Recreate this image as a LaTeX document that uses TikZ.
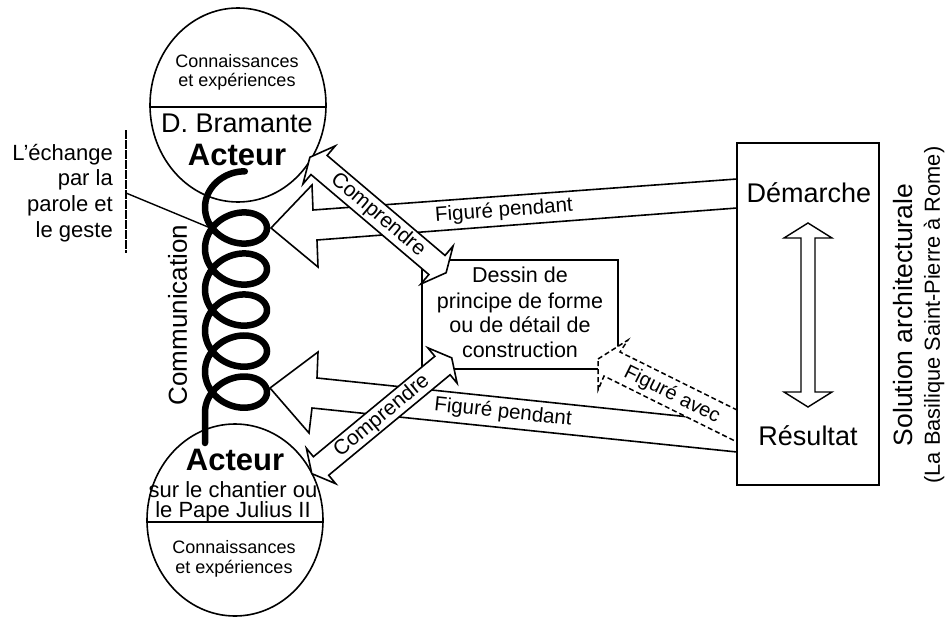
\documentclass[tikz,border=0pt]{standalone}
\usepackage{fontspec}
\setmainfont{Liberation Sans}
\usetikzlibrary{shapes.geometric}
\newcommand\fsz[1]{\fontsize{#1}{#1}\selectfont}
\begin{document}
\begin{tikzpicture}[x=1pt,y=-1pt,
  shapeline/.style={draw=black, line width=1.6pt, fill=white, line join=miter},
  dashline/.style={draw=black, line width=1.5pt, fill=white, dash pattern=on 5pt off 3pt},
  txt/.style={inner sep=0pt, anchor=base},
  rtxt/.style={inner sep=0pt, anchor=base east},
  ctxt/.style={inner sep=0pt, anchor=center},
]
\useasboundingbox (0,0) rectangle (945,618);
\fill[white] (0,0) rectangle (945,618);

% the two actors
\node[shapeline, ellipse, minimum width=176pt, minimum height=194pt, inner sep=0pt] (topact) at (238,105) {};
\draw[line width=1.6pt] ([yshift=-2pt]topact.west) -- ([yshift=-2pt]topact.east);
\node[shapeline, ellipse, minimum width=176pt, minimum height=192pt, inner sep=0pt] (botact) at (235,520) {};
\draw[line width=1.6pt] ([yshift=-2pt]botact.west) -- ([yshift=-2pt]botact.east);

% wide arrows from the solution back to the actors
\draw[shapeline] (737,179) -- (313,210) -- (312,185) -- (271,228) -- (318,267) -- (317,240) -- (737,208) -- cycle;
\draw[shapeline] (737,422) -- (317,378) -- (318,352) -- (270,388) -- (309,433) -- (312,408) -- (737,452) -- cycle;

% drawing box
\node[shapeline, minimum width=196pt, minimum height=109pt, inner sep=0pt] (dessin) at (520,314.5) {};

% dashed arrow towards the drawing
\draw[dashline] (598,359) -- (628,340) -- (620,352) -- (737,410) -- (737,442) -- (604,376) -- (598,390) -- cycle;

% double arrows "Comprendre"
\begin{scope}[shift={(378,215)}, rotate=-40.3]
\draw[shapeline] (-77.3,12.5) -- (77.3,12.5) -- (77.3,25) -- (89.3,0) -- (77.3,-25) -- (77.3,-12.5)
  -- (-77.3,-12.5) -- (-77.3,-25) -- (-89.3,0) -- (-77.3,25) -- cycle;
\end{scope}
\begin{scope}[shift={(381.75,415.75)}, rotate=39.6]
\draw[shapeline] (-78.8,12) -- (78.8,12) -- (78.8,23) -- (90.8,0) -- (78.8,-23) -- (78.8,-12)
  -- (-78.8,-12) -- (-78.8,-23) -- (-90.8,0) -- (-78.8,23) -- cycle;
\end{scope}

% solution box
\node[shapeline, line width=2pt, minimum width=142pt, minimum height=342pt, inner sep=0pt] (sol) at (808,314) {};
\draw[shapeline, line width=1.4pt] (808,223) -- (832,238) -- (815,238) -- (815,392) -- (832,392) -- (808,407)
  -- (784,392) -- (801,392) -- (801,238) -- (784,238) -- cycle;

% communication coil
\draw[line width=6.5pt, line cap=round]
  plot[domain=-5:{9*pi}, samples=400, variable=\t] ({236+31*cos(\t r)}, {228+6.53*\t-25*sin(\t r)})
  -- (205,443);

% note on the left
\coordinate (notebar top) at (126,130);
\coordinate (notebar bot) at (126,253);
\coordinate (notefoot) at (126,193);
\coordinate (coilhit) at (208,227);
\draw[line width=1.4pt, dash pattern=on 9pt off 1pt] (notebar top) -- (notebar bot);
\draw[line width=1.4pt] (notefoot) -- (coilhit);
\node[rtxt] (n1) at (113,160) {\fsz{22}L'échange};
\node[rtxt] (n2) at (113,185) {\fsz{22}par la};
\node[rtxt] (n3) at (113,211) {\fsz{22}parole et};
\node[rtxt] (n4) at (113,237) {\fsz{22}le geste};

% texts of the top actor
\node[txt] (t1) at (237,67) {\fsz{18}Connaissances};
\node[txt] (t2) at (237,87) {\fsz{18}et expériences};
\node[txt] (t3) at (237,132) {\fsz{27}D. Bramante};
\node[txt] (t4) at (237,165) {\fsz{31}\bfseries Acteur};

% texts of the bottom actor
\node[txt] (b1) at (235,470) {\fsz{31}\bfseries Acteur};
\node[txt] (b2) at (233,497) {\fsz{22}sur le chantier ou};
\node[txt] (b3) at (233,517) {\fsz{22}le Pape Julius II};
\node[txt] (b4) at (234,553) {\fsz{18}Connaissances};
\node[txt] (b5) at (234,573) {\fsz{18}et expériences};

\node[ctxt, rotate=90] (comm) at (177.5,315) {\fsz{26}Communication};

% arrow labels
\node[ctxt, rotate=4.2] (fp1) at (504,211) {\fsz{20.5}Figuré pendant};
\node[ctxt, rotate=-6] (fp2) at (503,412.6) {\fsz{20.5}Figuré pendant};
\node[ctxt, rotate=-40.3] (cp1) at (378,215) {\fsz{21}Comprendre};
\node[ctxt, rotate=39.6] (cp2) at (382,416) {\fsz{21}Comprendre};
\node[ctxt, rotate=-26.5] (fa) at (672,395) {\fsz{20}Figuré avec};

% drawing box text
\node[txt] (d1) at (520,282) {\fsz{21.5}Dessin de};
\node[txt] (d2) at (520,308) {\fsz{21.5}principe de forme};
\node[txt] (d3) at (520,332) {\fsz{21.5}ou de détail de};
\node[txt] (d4) at (520,357) {\fsz{21.5}construction};

% solution box text
\node[txt] (s1) at (809,202) {\fsz{27}Démarche};
\node[txt] (s2) at (808,445) {\fsz{27}Résultat};
\node[ctxt, rotate=90] (sa) at (903,315) {\fsz{26.5}Solution architecturale};
\node[ctxt, rotate=90] (sb) at (934,315) {\fsz{21.8}(La Basilique Saint-Pierre à Rome)};
\end{tikzpicture}
\end{document}
